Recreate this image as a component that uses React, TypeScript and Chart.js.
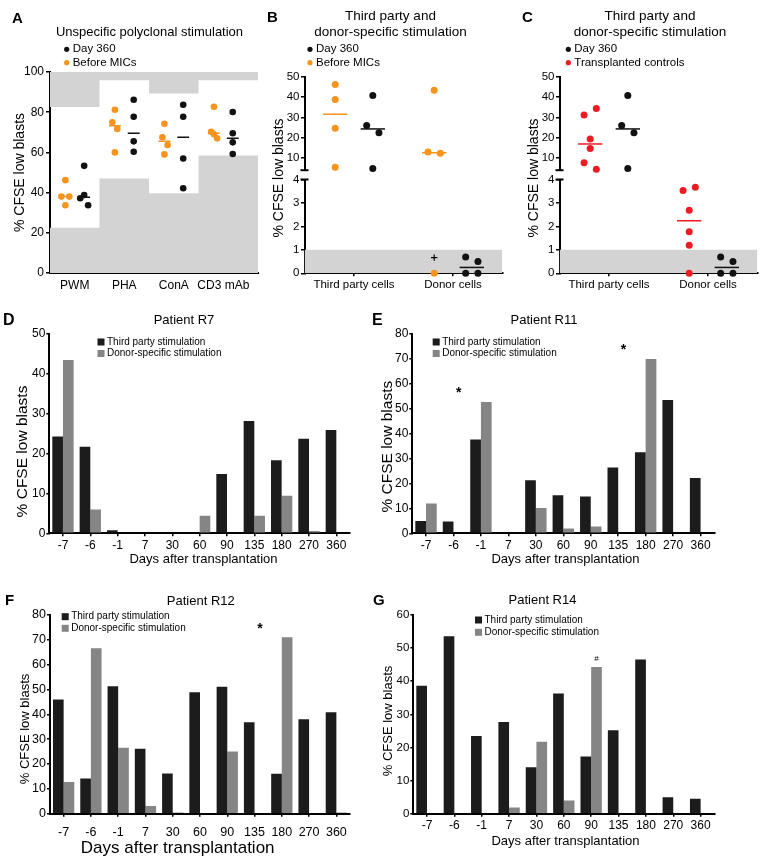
import React, { useEffect, useRef } from "react";
import { Chart, registerables } from "chart.js";

Chart.register(...registerables);

const FONT = "'Liberation Sans', Arial, Helvetica, sans-serif";
Chart.defaults.font.family = FONT;
Chart.defaults.color = "#000";

// ---------------- colours ----------------
const ORANGE = "#f7941d";
const RED = "#ed1c24";
const BLACK = "#111111";
const BAR_BLACK = "#1c1c1c";
const BAR_GRAY = "#858585";
const BAND = "#d3d3d3";

// ---------------- Panel A ----------------
const A_CATEGORIES = ["PWM", "PHA", "ConA", "CD3 mAb"];
const A_DAY360 = [
  [53.3, 38.8, 37.2, 33.7],
  [86.2, 77.7, 65.5, 60.3],
  [83.7, 77.7, 57.0, 42.2],
  [80.1, 69.5, 65.0, 59.2],
];
const A_DAY360_MEDIAN = [37.7, 69.5, 67.5, 67.0];
const A_BEFORE = [
  [46.2, 38.0, 38.0, 33.7],
  [81.2, 75.0, 71.7, 60.0],
  [74.2, 67.5, 63.7, 59.0],
  [82.7, 70.3, 69.0, 67.0],
];
const A_BEFORE_MEDIAN = [38.0, 73.3, 65.5, 69.5];
const A_RANGE_LOW = [22.5, 47.0, 39.7, 58.4];
const A_RANGE_HIGH = [82.6, 95.9, 89.3, 95.9];
// horizontal spread slots of overlapping dots
const A_DAY360_JITTER = [[0, 0, -1, 1], [0, 0, 0, 0], [0, 0, 0, 0], [0, 0, 0, 0]];
const A_BEFORE_JITTER = [[0, -1, 1, 0], [0, -0.65, 0.6, 0], [0, -0.5, 0.8, 0], [0, -0.7, 0, 0.8]];

// ---------------- Panels B and C ----------------
const BC_CATEGORIES = ["Third party cells", "Donor cells"];
const DAY360_BC = [[40.8, 26.0, 22.4, 4.8], [0.69, 0.5, 0, 0]];
const DAY360_BC_MEDIAN = [24.3, 0.25];
const BEFORE_B = [[46.2, 38.8, 24.7, 5.4], [43.3, 12.9, 12.3, 0]];
const BEFORE_B_MEDIAN = [31.5, 12.6];
const BEFORE_B_CROSS = [null, 0.67];
const CONTROLS_C = [[34.3, 31.1, 19.3, 14.7, 7.7, 4.5], [3.67, 3.53, 2.69, 1.77, 1.2, 0]];
const CONTROLS_C_MEDIAN = [16.9, 2.24];
const BC_UPPER_TICKS = [10, 20, 30, 40, 50];
const BC_BREAK = 4;
const BC_NEGATIVE_LIMIT = 1;
const DAY360_BC_JITTER = [[0, -1, 1, 0], [-1, 1, -1, 1]];
const BEFORE_B_JITTER = [[0, 0, 0, 0], [0, -1, 1, 0]];
const CONTROLS_C_JITTER = [[1, -1, 0, 0, -1, 1], [1, -1, 0, 0, 0, 0]];

// ---------------- Panels D-G ----------------
const DAYS = ["-7", "-6", "-1", "7", "30", "60", "90", "135", "180", "270", "360"];
const R7_THIRD = [24.3, 21.7, 0.75, 0, 0, 0, 14.9, 28.2, 18.3, 23.7, 25.9];
const R7_DONOR = [43.5, 6.0, 0, 0, 0, 4.4, 0, 4.4, 9.4, 0.6, 0];
const R11_THIRD = [4.95, 4.7, 37.7, 0, 21.3, 15.3, 14.8, 26.4, 32.5, 53.5, 22.2];
const R11_DONOR = [12.0, 0, 52.7, 0, 10.2, 1.9, 2.7, 0, 70.0, 0, 0];
const R12_THIRD = [46.0, 14.2, 51.3, 26.2, 16.2, 48.9, 51.1, 36.8, 16.1, 38.0, 40.8];
const R12_DONOR = [12.8, 66.6, 26.6, 3.1, 0.5, 0, 25.0, 0, 71.0, 0, 0.5];
const R14_THIRD = [38.6, 53.6, 23.5, 27.7, 14.0, 36.3, 17.3, 25.2, 46.6, 5.0, 4.5];
const R14_DONOR = [0, 0, 0, 1.9, 21.7, 4.0, 44.3, 0, 0, 0, 0];
const R11_MARK_DAYS = ["-6", "135"];
const R11_MARK_LEVELS = [57.9, 75.3];
const R12_MARK_DAYS = ["135"];
const R12_MARK_LEVELS = [76.2];
const R14_MARK_DAYS = ["90"];
const R14_MARK_LEVELS = [47.1];

// ---------------- helpers ----------------
function pad(W: number, H: number, area: any, yW: number, xH: number) {
  return { left: area.l - yW, top: area.t, right: W - area.r, bottom: H - area.b - xH };
}

function drawText(ctx: CanvasRenderingContext2D, s: string, x: number, y: number, size: number, o: any = {}) {
  ctx.save();
  ctx.font = `${o.bold ? "bold " : ""}${size}px ${FONT}`;
  ctx.fillStyle = o.color || "#000";
  ctx.textAlign = o.align || "left";
  ctx.textBaseline = o.baseline || "alphabetic";
  ctx.translate(x, y);
  if (o.rotate) ctx.rotate(o.rotate);
  ctx.fillText(s, 0, 0);
  ctx.restore();
}

function decor(id: string, fn: (chart: any, ctx: CanvasRenderingContext2D) => void) {
  return {
    id,
    afterDraw(chart: any) {
      const ctx = chart.ctx;
      ctx.save();
      fn(chart, ctx);
      ctx.restore();
    },
  };
}

function dotLegend(ctx: CanvasRenderingContext2D, items: any[], x: number, y0: number, dy: number, textX: number, size: number) {
  items.forEach((it, i) => {
    const y = y0 + i * dy;
    ctx.fillStyle = it.color;
    ctx.beginPath();
    ctx.arc(x, y, 2.6, 0, Math.PI * 2);
    ctx.fill();
    drawText(ctx, it.label, textX, y, size, { baseline: "middle" });
  });
}

function breakMark(chart: any, ctx: CanvasRenderingContext2D, atTop: boolean) {
  const a = chart.chartArea;
  const y = atTop ? a.top : a.bottom;
  ctx.strokeStyle = "#000";
  ctx.lineWidth = 2;
  ctx.beginPath();
  ctx.moveTo(a.left - 4, y);
  ctx.lineTo(a.left + 4, y);
  ctx.stroke();
}

type Group = { label: string; color: string; values: number[][]; jitter: number[][]; median: number[]; offset: number };

function groupDatasets(groups: Group[], spread: number, half: number, radius: number, keep: (v: number) => boolean) {
  const ds: any[] = [];
  groups.forEach((g) => {
    const med: any[] = [];
    g.median.forEach((m, ci) => {
      if (!keep(m)) return;
      const c = ci + 0.5 + g.offset;
      med.push({ x: c - half, y: m }, { x: c + half, y: m }, { x: c + half, y: null });
    });
    const pts: any[] = [];
    g.values.forEach((grp, ci) =>
      grp.forEach((v, j) => {
        if (keep(v)) pts.push({ x: ci + 0.5 + g.offset + g.jitter[ci][j] * spread, y: v });
      })
    );
    ds.push({
      label: g.label + " median", data: med, showLine: true, borderColor: g.color, borderWidth: 1.5,
      pointRadius: 0, clip: false, order: 2, fill: false,
    });
    ds.push({
      label: g.label, data: pts, showLine: false, pointRadius: radius, pointBackgroundColor: g.color,
      pointBorderWidth: 0, borderColor: g.color, backgroundColor: g.color, clip: false, order: 1,
    });
  });
  return ds;
}

const baseOptions = {
  responsive: false,
  maintainAspectRatio: false,
  animation: false,
  events: [],
  plugins: { legend: { display: false }, tooltip: { enabled: false }, title: { display: false } },
};

const tickGrid = (len: number) => ({
  display: true, drawOnChartArea: false, drawTicks: true, tickLength: len, color: "#000", lineWidth: 1.5,
});

// ---------------- Panel A spec ----------------
function makeA() {
  const W = 265, H = 300;
  const area = { l: 50, t: 72, r: 258, b: 273 };
  const yW = 38, xH = 27;
  const X_MAX = 4.2;
  const band = (vals: number[], fill: string) => ({
    label: "range " + fill,
    data: [...vals.map((v, i) => ({ x: i, y: v })), { x: X_MAX, y: vals[vals.length - 1] }],
    stepped: "before", fill, backgroundColor: BAND, borderColor: "rgba(0,0,0,0)", borderWidth: 0,
    pointRadius: 0, order: 10,
  });
  const groups: Group[] = [
    { label: "Before MICs", color: ORANGE, values: A_BEFORE, jitter: A_BEFORE_JITTER, median: A_BEFORE_MEDIAN, offset: -0.19 },
    { label: "Day 360", color: BLACK, values: A_DAY360, jitter: A_DAY360_JITTER, median: A_DAY360_MEDIAN, offset: 0.19 },
  ];
  return {
    type: "line",
    data: { datasets: [band(A_RANGE_LOW, "origin"), band(A_RANGE_HIGH, "end"), ...groupDatasets(groups, 0.08, 0.12, 3.3, () => true)] },
    options: {
      ...baseOptions,
      layout: { padding: pad(W, H, area, yW, xH) },
      scales: {
        x: {
          type: "linear", min: 0, max: X_MAX,
          afterBuildTicks: (s: any) => { s.ticks = A_CATEGORIES.map((_, i) => ({ value: i + 0.5 })); },
          ticks: { callback: (_v: any, i: number) => A_CATEGORIES[i], font: { size: 12 }, padding: 5, maxRotation: 0, autoSkip: false },
          grid: { display: true, drawOnChartArea: false, drawTicks: false },
          border: { color: "#000", width: 2 },
          afterFit: (s: any) => { s.height = xH; },
        },
        y: {
          min: 0, max: 100,
          ticks: { stepSize: 20, font: { size: 12 }, padding: 2 },
          grid: tickGrid(4),
          border: { color: "#000", width: 2 },
          title: { display: true, text: "% CFSE low blasts", font: { size: 14 }, padding: 0 },
          afterFit: (s: any) => { s.width = yW; },
        },
      },
    },
    plugins: [
      decor("decorA", (chart, ctx) => {
        drawText(ctx, "A", 12, 23, 15, { bold: true });
        drawText(ctx, "Unspecific polyclonal stimulation", 149.5, 32, 13, { align: "center", baseline: "middle" });
        dotLegend(ctx, [groups[1], groups[0]], 66.7, 49.3, 13.4, 72.7, 11.5);
      }),
    ],
  };
}

// ---------------- Panels B / C specs ----------------
function makeBC(which: "B" | "C", part: "upper" | "lower") {
  const W = 260, H = 300;
  const area = part === "upper" ? { l: 49.5, t: 76.7, r: 247.5, b: 170.2 } : { l: 49.5, t: 179.5, r: 247.5, b: 273.3 };
  const yW = 30;
  const xH = part === "upper" ? 0 : 26;
  const other: Group =
    which === "B"
      ? { label: "Before MICs", color: ORANGE, values: BEFORE_B, jitter: BEFORE_B_JITTER, median: BEFORE_B_MEDIAN, offset: -0.19 }
      : { label: "Transplanted controls", color: RED, values: CONTROLS_C, jitter: CONTROLS_C_JITTER, median: CONTROLS_C_MEDIAN, offset: -0.19 };
  const day: Group = { label: "Day 360", color: BLACK, values: DAY360_BC, jitter: DAY360_BC_JITTER, median: DAY360_BC_MEDIAN, offset: 0.19 };
  const keep = part === "upper" ? (v: number) => v > BC_BREAK : (v: number) => v <= BC_BREAK;
  const datasets: any[] = groupDatasets([other, day], 0.062, 0.123, 3.5, keep);
  if (part === "lower") {
    datasets.push({
      label: "negative range", data: [{ x: 0, y: BC_NEGATIVE_LIMIT }, { x: 2, y: BC_NEGATIVE_LIMIT }],
      fill: "origin", backgroundColor: BAND, borderColor: "rgba(0,0,0,0)", borderWidth: 0, pointRadius: 0, order: 10,
    });
    if (which === "B") {
      const cross: any[] = [];
      BEFORE_B_CROSS.forEach((v, ci) => { if (v !== null) cross.push({ x: ci + 0.5 + other.offset, y: v }); });
      datasets.push({
        label: "cross", data: cross, showLine: false, pointStyle: "cross", pointRadius: 3.2,
        pointBorderWidth: 1.2, pointBorderColor: "#000", borderColor: "#000", clip: false, order: 0,
      });
    }
  }
  const yScale: any =
    part === "upper"
      ? {
          min: BC_BREAK, max: 50,
          afterBuildTicks: (s: any) => { s.ticks = BC_UPPER_TICKS.map((v) => ({ value: v })); },
        }
      : { min: 0, max: BC_BREAK, ticks: { stepSize: 1 } };
  yScale.ticks = { ...(yScale.ticks || {}), font: { size: 11.5 }, padding: 1.5 };
  yScale.grid = tickGrid(3.5);
  yScale.border = { color: "#000", width: 2 };
  yScale.afterFit = (s: any) => { s.width = yW; };
  const titleX = which === "B" ? 135.5 : 140;
  const legendX = which === "B" ? 55 : 58.3;
  return {
    type: "line",
    data: { datasets },
    options: {
      ...baseOptions,
      layout: { padding: pad(W, H, area, yW, xH) },
      scales: {
        x: {
          type: "linear", min: 0, max: 2, display: part === "lower",
          afterBuildTicks: (s: any) => { s.ticks = BC_CATEGORIES.map((_, i) => ({ value: i + 0.5 })); },
          ticks: { callback: (_v: any, i: number) => BC_CATEGORIES[i], font: { size: 11.5 }, padding: 2, maxRotation: 0, autoSkip: false },
          grid: tickGrid(3),
          border: { color: "#000", width: 2 },
          afterFit: (s: any) => { s.height = xH; },
        },
        y: yScale,
      },
    },
    plugins: [
      decor("decor" + which + part, (chart, ctx) => {
        breakMark(chart, ctx, part === "lower");
        if (part === "upper") return;
        drawText(ctx, which, 12, 22, 15, { bold: true });
        drawText(ctx, "Third party and", titleX, 16.7, 13.5, { align: "center", baseline: "middle" });
        drawText(ctx, "donor-specific stimulation", titleX, 32.7, 13.5, { align: "center", baseline: "middle" });
        dotLegend(ctx, [day, other], legendX, 49.3, 13.4, legendX + 6, 11.5);
        drawText(ctx, "% CFSE low blasts", 24.5, 178, 14, { align: "center", baseline: "middle", rotate: -Math.PI / 2 });
      }),
    ],
  };
}

// ---------------- Bar panels ----------------
function makeBar(o: any) {
  return {
    type: "bar",
    data: {
      labels: DAYS,
      datasets: [
        { label: "Third party stimulation", data: o.third, backgroundColor: BAR_BLACK, borderWidth: 0, barPercentage: 1, categoryPercentage: 0.78 },
        { label: "Donor-specific stimulation", data: o.donor, backgroundColor: BAR_GRAY, borderWidth: 0, barPercentage: 1, categoryPercentage: 0.78 },
      ],
    },
    options: {
      ...baseOptions,
      layout: { padding: pad(o.W, o.H, o.area, o.yW, o.xH) },
      scales: {
        x: {
          ticks: { font: { size: o.xTick }, padding: o.xPad, maxRotation: 0, autoSkip: false },
          grid: { ...tickGrid(3), offset: false },
          border: { color: "#000", width: 2 },
          afterFit: (s: any) => { s.height = o.xH; },
        },
        y: {
          min: 0, max: o.max,
          ticks: { stepSize: 10, font: { size: o.yTick }, padding: 1 },
          grid: tickGrid(3),
          border: { color: "#000", width: 2 },
          afterFit: (s: any) => { s.width = o.yW; },
        },
      },
    },
    plugins: [
      decor("decor" + o.letter, (chart, ctx) => {
        drawText(ctx, o.letter, o.letterX, o.letterY, o.letterSize, { bold: true });
        drawText(ctx, o.title, o.titleX, o.titleY, 13, { align: "center", baseline: "middle" });
        drawText(ctx, "Days after transplantation", o.xTitleX, o.xTitleY, o.xTitle, { align: "center", baseline: "middle" });
        drawText(ctx, "% CFSE low blasts", o.yTitleX, o.yTitleY, o.yTitle, { align: "center", baseline: "middle", rotate: -Math.PI / 2 });
        chart.data.datasets.forEach((ds: any, i: number) => {
          const y = o.legY + i * o.legDy;
          ctx.fillStyle = ds.backgroundColor;
          ctx.fillRect(o.legX, y - 3.5, 7, 7);
          drawText(ctx, ds.label, o.legX + 9.5, y, 10, { baseline: "middle" });
        });
        const meta = chart.getDatasetMeta(1);
        const ys = chart.scales.y;
        (o.markDays || []).forEach((d: string, k: number) => {
          const el = meta.data[DAYS.indexOf(d)];
          const sym = o.markSymbol;
          const size = sym === "*" ? 14 : 8;
          const lift = sym === "*" ? 0.58 : 0.36;
          drawText(ctx, sym, el.x, ys.getPixelForValue(o.markLevels[k]) + lift * size, size, { align: "center", bold: sym === "*" });
        });
      }),
    ],
  };
}

const SPECS: any[] = [
  { left: 0, top: 0, width: 265, height: 300, make: makeA },
  { left: 255, top: 0, width: 260, height: 300, make: () => makeBC("B", "upper") },
  { left: 255, top: 0, width: 260, height: 300, make: () => makeBC("B", "lower") },
  { left: 510, top: 0, width: 260, height: 300, make: () => makeBC("C", "upper") },
  { left: 510, top: 0, width: 260, height: 300, make: () => makeBC("C", "lower") },
  {
    left: 0, top: 300, width: 380, height: 285,
    make: () => makeBar({
      W: 380, H: 285, area: { l: 49.3, t: 34, r: 350, b: 233.3 }, yW: 35.6, xH: 25, max: 50,
      third: R7_THIRD, donor: R7_DONOR, xTick: 12, yTick: 12, xPad: 2.5,
      xTitle: 13, xTitleX: 203.5, xTitleY: 259.3, yTitle: 15.5, yTitleX: 22.5, yTitleY: 151.5,
      letter: "D", letterX: 3, letterY: 25, letterSize: 16, title: "Patient R7", titleX: 184, titleY: 20,
      legX: 97.5, legY: 42, legDy: 11.5,
    }),
  },
  {
    left: 370, top: 300, width: 400, height: 285,
    make: () => makeBar({
      W: 400, H: 285, area: { l: 42.3, t: 34, r: 344.3, b: 233.3 }, yW: 31.9, xH: 25, max: 80,
      third: R11_THIRD, donor: R11_DONOR, xTick: 12, yTick: 12, xPad: 2.5,
      xTitle: 13, xTitleX: 195.5, xTitleY: 259.3, yTitle: 15.5, yTitleX: 17.5, yTitleY: 146.7,
      letter: "E", letterX: 2, letterY: 25, letterSize: 16, title: "Patient R11", titleX: 174, titleY: 20,
      legX: 62.7, legY: 42, legDy: 11.5, markDays: R11_MARK_DAYS, markLevels: R11_MARK_LEVELS, markSymbol: "*",
    }),
  },
  {
    left: 0, top: 585, width: 380, height: 275,
    make: () => makeBar({
      W: 380, H: 275, area: { l: 50, t: 30, r: 350, b: 228.7 }, yW: 32.8, xH: 30, max: 80,
      third: R12_THIRD, donor: R12_DONOR, xTick: 12.5, yTick: 12.5, xPad: 8.5,
      xTitle: 17, xTitleX: 177.7, xTitleY: 263.3, yTitle: 13, yTitleX: 25, yTitleY: 144,
      letter: "F", letterX: 5, letterY: 20, letterSize: 15, title: "Patient R12", titleX: 200.8, titleY: 16.7,
      legX: 61.7, legY: 31.7, legDy: 11.6, markDays: R12_MARK_DAYS, markLevels: R12_MARK_LEVELS, markSymbol: "*",
    }),
  },
  {
    left: 370, top: 585, width: 400, height: 275,
    make: () => makeBar({
      W: 400, H: 275, area: { l: 43.3, t: 30, r: 344.3, b: 228.7 }, yW: 32.8, xH: 25, max: 60,
      third: R14_THIRD, donor: R14_DONOR, xTick: 12, yTick: 11.5, xPad: 2.1,
      xTitle: 13, xTitleX: 195.5, xTitleY: 256.7, yTitle: 13, yTitleX: 18.3, yTitleY: 136,
      letter: "G", letterX: 3, letterY: 20, letterSize: 15, title: "Patient R14", titleX: 172.5, titleY: 15,
      legX: 105, legY: 35, legDy: 12.3, markDays: R14_MARK_DAYS, markLevels: R14_MARK_LEVELS, markSymbol: "#",
    }),
  },
];

function ChartCanvas({ spec }: { spec: any }) {
  const ref = useRef<HTMLCanvasElement | null>(null);
  useEffect(() => {
    if (!ref.current) return;
    const chart = new Chart(ref.current, spec.make());
    return () => chart.destroy();
  }, [spec]);
  return (
    <canvas
      ref={ref}
      width={spec.width}
      height={spec.height}
      style={{ position: "absolute", left: spec.left, top: spec.top, width: spec.width, height: spec.height }}
    />
  );
}

export default function App() {
  return (
    <div style={{ position: "absolute", left: 0, top: 0, width: 770, height: 860, background: "#fff", overflow: "hidden" }}>
      {SPECS.map((s, i) => (
        <ChartCanvas key={i} spec={s} />
      ))}
    </div>
  );
}
